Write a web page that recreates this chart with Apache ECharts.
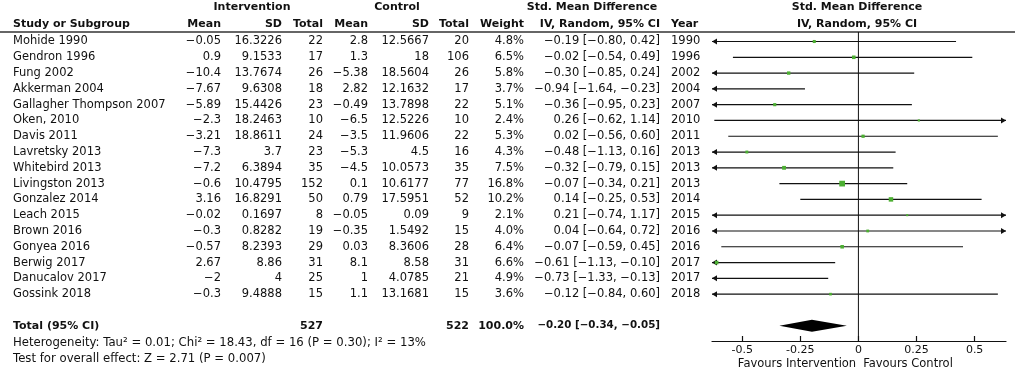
<!DOCTYPE html>
<html><head><meta charset="utf-8">
<script src="https://cdn.jsdelivr.net/npm/echarts@6/dist/echarts.min.js"></script>
<style>html,body{margin:0;padding:0;background:#fff}#c{width:1021px;height:383px}</style>
</head><body><div id="c"></div>
<script>
// ---------- DATA ----------
const studies = ['Mohide 1990','Gendron 1996','Fung 2002','Akkerman 2004','Gallagher Thompson 2007','Oken, 2010','Davis 2011','Lavretsky 2013','Whitebird 2013','Livingston 2013','Gonzalez 2014','Leach 2015','Brown 2016','Gonyea 2016','Berwig 2017','Danucalov 2017','Gossink 2018'];
const intMean = ['-0.05','0.9','-10.4','-7.67','-5.89','-2.3','-3.21','-7.3','-7.2','-0.6','3.16','-0.02','-0.3','-0.57','2.67','-2','-0.3'];
const intSD = ['16.3226','9.1533','13.7674','9.6308','15.4426','18.2463','18.8611','3.7','6.3894','10.4795','16.8291','0.1697','0.8282','8.2393','8.86','4','9.4888'];
const intN = [22,17,26,18,23,10,24,23,35,152,50,8,19,29,31,25,15];
const ctlMean = ['2.8','1.3','-5.38','2.82','-0.49','-6.5','-3.5','-5.3','-4.5','0.1','0.79','-0.05','-0.35','0.03','8.1','1','1.1'];
const ctlSD = ['12.5667','18','18.5604','12.1632','13.7898','12.5226','11.9606','4.5','10.0573','10.6177','17.5951','0.09','1.5492','8.3606','8.58','4.0785','13.1681'];
const ctlN = [20,106,26,17,22,10,22,16,35,77,52,9,15,28,31,21,15];
const weights = [4.8,6.5,5.8,3.7,5.1,2.4,5.3,4.3,7.5,16.8,10.2,2.1,4.0,6.4,6.6,4.9,3.6];
const smd = [-0.19,-0.02,-0.30,-0.94,-0.36,0.26,0.02,-0.48,-0.32,-0.07,0.14,0.21,0.04,-0.07,-0.61,-0.73,-0.12];
const ciLow = [-0.80,-0.54,-0.85,-1.64,-0.95,-0.62,-0.56,-1.13,-0.79,-0.34,-0.25,-0.74,-0.64,-0.59,-1.13,-1.33,-0.84];
const ciHigh = [0.42,0.49,0.24,-0.23,0.23,1.14,0.60,0.16,0.15,0.21,0.53,1.17,0.72,0.45,-0.10,-0.13,0.60];
const years = [1990,1996,2002,2004,2007,2010,2011,2013,2013,2013,2014,2015,2016,2016,2017,2017,2018];
const totalN = [527, 522];
const totalWeight = 100.0;
const totalEffect = [-0.20, -0.34, -0.05]; // estimate, low, high
const heterogeneityText = 'Heterogeneity: Tau\u00b2 = 0.01; Chi\u00b2 = 18.43, df = 16 (P = 0.30); I\u00b2 = 13%';
const overallText = 'Test for overall effect: Z = 2.71 (P = 0.007)';
const axisTicks = [-0.5, -0.25, 0, 0.25, 0.5];
const axisTickLabels = ['-0.5', '-0.25', '0', '0.25', '0.5'];
const favourLabels = ['Favours Intervention', 'Favours Control'];

// ---------- LAYOUT ----------
const ROW0 = 41.5, ROWH = 15.79;
const XMIN = -0.63, XMAX = 0.635;
const FONT = 'DejaVu Sans';
const BODY = 11.5;
const mm = s => String(s).replace(/-/g, '\u2212');
const f2 = v => mm(v.toFixed(2));
const ciText = (e, l, h) => f2(e) + ' [' + f2(l) + ', ' + f2(h) + ']';
const rowsIdx = studies.map((_, i) => i);
const TOTAL_ROW = 18;

function textSeries(x, rows, texts, align, opts) {
  opts = opts || {};
  return {
    type: 'custom', xAxisIndex: 0, yAxisIndex: 0, silent: true, clip: false,
    data: rows.map(r => [x, r]),
    renderItem: (params, api) => {
      const p = api.coord([api.value(0), api.value(1)]);
      return {
        type: 'text', x: p[0], y: p[1],
        style: {
          text: texts[params.dataIndex], textAlign: align, textVerticalAlign: 'middle',
          fill: '#111', fontFamily: FONT, fontSize: opts.size || BODY,
          fontWeight: opts.bold ? 'bold' : 'normal'
        }
      };
    }
  };
}

const series = [];
const HB = {bold: true, size: 11};
// headers
series.push(textSeries(252, [-2.16], ['Intervention'], 'center', HB));
series.push(textSeries(397, [-2.16], ['Control'], 'center', HB));
series.push(textSeries(592, [-2.16], ['Std. Mean Difference'], 'center', HB));
series.push(textSeries(857, [-2.16], ['Std. Mean Difference'], 'center', HB));
series.push(textSeries(13, [-1.07], ['Study or Subgroup'], 'left', HB));
[[221,'Mean'],[282,'SD'],[323,'Total'],[368,'Mean'],[429,'SD'],[469,'Total'],[524,'Weight'],[660,'IV, Random, 95% CI']].forEach(h =>
  series.push(textSeries(h[0], [-1.07], [h[1]], 'right', HB)));
series.push(textSeries(671, [-1.07], ['Year'], 'left', HB));
series.push(textSeries(857, [-1.07], ['IV, Random, 95% CI'], 'center', HB));
// header rule
series.push({type: 'line', xAxisIndex: 0, yAxisIndex: 0, silent: true, symbol: 'none',
  data: [[0, -0.6], [1015, -0.6]], lineStyle: {color: '#333', width: 1.5}});
// body columns
series.push(textSeries(13, rowsIdx, studies, 'left'));
series.push(textSeries(221, rowsIdx, intMean.map(mm), 'right'));
series.push(textSeries(282, rowsIdx, intSD, 'right'));
series.push(textSeries(323, rowsIdx, intN.map(String), 'right'));
series.push(textSeries(368, rowsIdx, ctlMean.map(mm), 'right'));
series.push(textSeries(429, rowsIdx, ctlSD, 'right'));
series.push(textSeries(469, rowsIdx, ctlN.map(String), 'right'));
series.push(textSeries(524, rowsIdx, weights.map(w => w.toFixed(1) + '%'), 'right'));
series.push(textSeries(660, rowsIdx, smd.map((e, i) => ciText(e, ciLow[i], ciHigh[i])), 'right'));
series.push(textSeries(671, rowsIdx, years.map(String), 'left'));
// total row
series.push(textSeries(13, [TOTAL_ROW], ['Total (95% CI)'], 'left', HB));
series.push(textSeries(323, [TOTAL_ROW], [String(totalN[0])], 'right', HB));
series.push(textSeries(469, [TOTAL_ROW], [String(totalN[1])], 'right', HB));
series.push(textSeries(524, [TOTAL_ROW], [totalWeight.toFixed(1) + '%'], 'right', HB));
series.push(textSeries(660, [TOTAL_ROW], [ciText(totalEffect[0], totalEffect[1], totalEffect[2])], 'right', {bold: true, size: 10.3}));
series.push(textSeries(13, [19.1], [heterogeneityText], 'left', {size: 11.7}));
series.push(textSeries(13, [20.1], [overallText], 'left', {size: 11.7}));
series.push(textSeries(797, [20.45], [favourLabels[0]], 'center', {size: 11.5}));
series.push(textSeries(908, [20.45], [favourLabels[1]], 'center', {size: 11.5}));

// forest: zero line
const FY0 = (32 - ROW0) / ROWH, FY1 = (341 - ROW0) / ROWH;
series.push({type: 'line', xAxisIndex: 1, yAxisIndex: 1, silent: true, symbol: 'none',
  data: [[0, FY0], [0, FY1]], lineStyle: {color: '#111', width: 1}});
// study CIs
series.push({
  type: 'custom', xAxisIndex: 1, yAxisIndex: 1, silent: true, clip: false,
  data: studies.map((s, i) => [ciLow[i], i, ciHigh[i], smd[i], weights[i]]),
  encode: {x: [0, 2, 3], y: 1},
  renderItem: (params, api) => {
    const lo = api.value(0), row = api.value(1), hi = api.value(2), est = api.value(3), w = api.value(4);
    const a = api.coord([Math.max(lo, XMIN), row]);
    const b = api.coord([Math.min(hi, XMAX), row]);
    const kids = [{type: 'line', shape: {x1: a[0], y1: a[1], x2: b[0], y2: b[1]}, style: {stroke: '#111', lineWidth: 1.2}}];
    if (lo < XMIN) kids.push({type: 'polygon', shape: {points: [[a[0], a[1]], [a[0] + 5, a[1] - 3], [a[0] + 5, a[1] + 3]]}, style: {fill: '#111'}});
    if (hi > XMAX) kids.push({type: 'polygon', shape: {points: [[b[0], b[1]], [b[0] - 5, b[1] - 3], [b[0] - 5, b[1] + 3]]}, style: {fill: '#111'}});
    if (est >= XMIN && est <= XMAX) {
      const c = api.coord([est, row]);
      const sz = 1.4 * Math.sqrt(w);
      kids.push({type: 'rect', shape: {x: c[0] - sz / 2, y: c[1] - sz / 2, width: sz, height: sz}, style: {fill: '#4caf32'}});
    }
    return {type: 'group', children: kids};
  }
});
// total diamond
series.push({
  type: 'custom', xAxisIndex: 1, yAxisIndex: 1, silent: true, clip: false,
  data: [[totalEffect[1], TOTAL_ROW, totalEffect[2], totalEffect[0]]],
  encode: {x: [0, 2, 3], y: 1},
  renderItem: (params, api) => {
    const l = api.coord([api.value(0), api.value(1)]);
    const h = api.coord([api.value(2), api.value(1)]);
    const e = api.coord([api.value(3), api.value(1)]);
    return {type: 'polygon', shape: {points: [[l[0], l[1]], [e[0], e[1] - 6], [h[0], h[1]], [e[0], e[1] + 6]]}, style: {fill: '#000'}};
  }
});

const chart = echarts.init(document.getElementById('c'));
chart.setOption({
  animation: false,
  backgroundColor: '#fff',
  grid: [
    {left: 0, top: 0, width: 1021, height: 383},
    {left: 712, top: 32, width: 294, height: 309}
  ],
  xAxis: [
    {type: 'value', gridIndex: 0, min: 0, max: 1021, show: false},
    {type: 'value', gridIndex: 1, min: XMIN, max: XMAX, position: 'bottom', splitLine: {show: false},
     axisLine: {show: true, onZero: false, lineStyle: {color: '#111', width: 1.2}},
     axisTick: {show: true, inside: true, length: 5, customValues: axisTicks, lineStyle: {color: '#111', width: 1.2}},
     axisLabel: {show: true, margin: 4, customValues: axisTicks, color: '#111', fontFamily: FONT, fontSize: 11,
       formatter: v => { const k = axisTicks.indexOf(v); return k >= 0 ? axisTickLabels[k] : String(v); }}}
  ],
  yAxis: [
    {type: 'value', gridIndex: 0, min: -ROW0 / ROWH, max: (383 - ROW0) / ROWH, inverse: true, show: false},
    {type: 'value', gridIndex: 1, min: FY0, max: FY1, inverse: true, show: false}
  ],
  series: series
});
</script></body></html>
